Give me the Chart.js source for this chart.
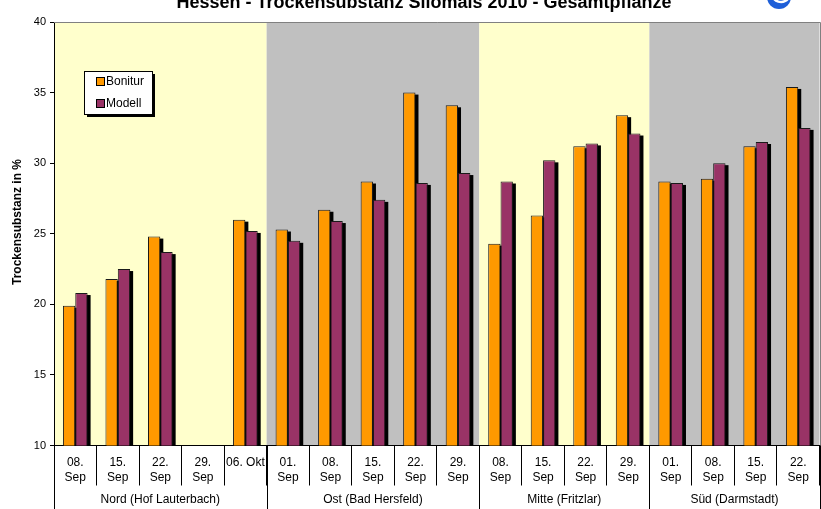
<!DOCTYPE html>
<html>
<head>
<meta charset="utf-8">
<script src="https://cdn.jsdelivr.net/npm/chart.js@4"></script>
<style>
  html, body { margin: 0; padding: 0; background: #fff; }
  #wrap { width: 821px; height: 509px; position: relative; }
</style>
</head>
<body>
<div id="wrap"><canvas id="c"></canvas></div>
<script>
// Sampling dates per site (two-line tick labels)
const categories = [
  ["08.", "Sep"], ["15.", "Sep"], ["22.", "Sep"], ["29.", "Sep"], "06. Okt",
  ["01.", "Sep"], ["08.", "Sep"], ["15.", "Sep"], ["22.", "Sep"], ["29.", "Sep"],
  ["08.", "Sep"], ["15.", "Sep"], ["22.", "Sep"], ["29.", "Sep"],
  ["01.", "Sep"], ["08.", "Sep"], ["15.", "Sep"], ["22.", "Sep"]
];
const regions = ["Nord (Hof Lauterbach)", "Ost (Bad Hersfeld)", "Mitte (Fritzlar)", "Süd (Darmstadt)"];
const regionSizes = [5, 5, 4, 4];

// Dry matter content in %
const bonitur = [19.9, 21.8, 24.8, null, 26.0, 25.3, 26.7, 28.7, 35.0, 34.1, 24.3, 26.3, 31.2, 33.4, 28.7, 28.9, 31.2, 35.4];
const modell  = [20.8, 22.5, 23.7, null, 25.2, 24.5, 25.9, 27.4, 28.6, 29.3, 28.7, 30.2, 31.4, 32.1, 28.6, 30.0, 31.5, 32.5];

const yMin = 10, yMax = 40, yStep = 5;

const FONT = "'Liberation Sans', Arial, Helvetica, sans-serif";
const bandColors = ["#FFFFCC", "#C0C0C0"];

function regionBounds(x) {
  const step = (x.right - x.left) / categories.length;
  const out = [];
  let start = 0;
  regionSizes.forEach(n => {
    out.push([x.left + start * step, x.left + (start + n) * step]);
    start += n;
  });
  return out;
}

const decor = {
  id: 'decor',
  beforeDraw(chart) {
    const { ctx, chartArea: a, scales: { x } } = chart;
    ctx.save();
    regionBounds(x).forEach(([l, r], i) => {
      ctx.fillStyle = bandColors[i % 2];
      ctx.fillRect(l, a.top, r - l, a.bottom - a.top);
    });
    ctx.restore();
  },
  beforeDatasetsDraw(chart) {
    // drop shadows behind the bars
    const { ctx, chartArea: a } = chart;
    ctx.save();
    ctx.beginPath();
    ctx.rect(a.left, a.top, a.right - a.left, a.bottom - a.top);
    ctx.clip();
    ctx.fillStyle = '#000';
    chart.data.datasets.forEach((ds, i) => {
      chart.getDatasetMeta(i).data.forEach((bar, j) => {
        if (ds.data[j] == null) return;
        const p = bar.getProps(['x', 'y', 'base', 'width'], true);
        ctx.fillRect(p.x - p.width / 2 + 3, p.y + 2, p.width, p.base - p.y);
      });
    });
    ctx.restore();
  },
  afterDraw(chart) {
    const { ctx, chartArea: a, scales: { x } } = chart;
    const H = chart.height;
    ctx.save();

    // plot frame top / right
    ctx.strokeStyle = '#808080';
    ctx.lineWidth = 1;
    ctx.beginPath();
    ctx.moveTo(Math.round(a.left), Math.round(a.top) + 0.5);
    ctx.lineTo(Math.round(a.right) + 0.5, Math.round(a.top) + 0.5);
    ctx.lineTo(Math.round(a.right) + 0.5, Math.round(a.bottom));
    ctx.stroke();

    // site separators and site names below the dates
    const bounds = regionBounds(x);
    ctx.strokeStyle = '#000';
    ctx.beginPath();
    const edges = [bounds[0][0]].concat(bounds.map(b => b[1]));
    edges.forEach(e => {
      const px = Math.round(e) + 0.5;
      ctx.moveTo(px, a.bottom);
      ctx.lineTo(px, H);
    });
    ctx.stroke();
    ctx.fillStyle = '#000';
    ctx.font = '12px ' + FONT;
    ctx.textAlign = 'center';
    ctx.textBaseline = 'middle';
    bounds.forEach(([l, r], i) => ctx.fillText(regions[i], (l + r) / 2, 500));

    // y axis title
    ctx.save();
    ctx.translate(18, 222);
    ctx.rotate(-Math.PI / 2);
    ctx.font = 'bold 12px ' + FONT;
    ctx.fillText('Trockensubstanz in %', 0, 0);
    ctx.restore();

    // chart title
    ctx.font = 'bold 18px ' + FONT;
    ctx.textBaseline = 'alphabetic';
    ctx.fillText('Hessen - Trockensubstanz Silomais 2010 - Gesamtpflanze', 424, 8);

    // logo
    ctx.fillStyle = '#1e5fd8';
    ctx.beginPath();
    ctx.arc(779, -3, 12, 0, Math.PI * 2);
    ctx.fill();
    ctx.strokeStyle = '#ffffff';
    ctx.lineWidth = 2.5;
    ctx.beginPath();
    ctx.arc(781, -7, 9, 0.3, Math.PI - 0.2);
    ctx.stroke();

    // legend
    const lx = 84, ly = 71, lw = 68, lh = 43;
    ctx.fillStyle = '#000';
    ctx.fillRect(lx + 3, ly + 3, lw, lh);
    ctx.fillStyle = '#fff';
    ctx.fillRect(lx, ly, lw, lh);
    ctx.strokeStyle = '#000';
    ctx.lineWidth = 1;
    ctx.strokeRect(lx + 0.5, ly + 0.5, lw, lh);
    ctx.font = '12px ' + FONT;
    ctx.textAlign = 'left';
    ctx.textBaseline = 'middle';
    chart.data.datasets.forEach((ds, i) => {
      const cy = 82 + i * 22;
      ctx.fillStyle = ds.backgroundColor;
      ctx.fillRect(97, cy - 4, 7, 7);
      ctx.strokeRect(96.5, cy - 4.5, 8, 8);
      ctx.fillStyle = '#000';
      ctx.fillText(ds.label, 106, cy);
    });

    ctx.restore();
  }
};

new Chart(document.getElementById('c'), {
  type: 'bar',
  data: {
    labels: categories,
    datasets: [
      { label: 'Bonitur', data: bonitur, backgroundColor: '#FF9900', borderColor: '#1a1a1a', borderWidth: 1 },
      { label: 'Modell', data: modell, backgroundColor: '#993366', borderColor: '#1a1a1a', borderWidth: 1 }
    ]
  },
  options: {
    responsive: true,
    maintainAspectRatio: false,
    animation: false,
    layout: { padding: { top: 22, right: 1.5, left: 0, bottom: 0 } },
    datasets: { bar: { categoryPercentage: 0.58, barPercentage: 1.0 } },
    plugins: { legend: { display: false }, title: { display: false }, tooltip: { enabled: false } },
    scales: {
      x: {
        offset: true,
        grid: { drawOnChartArea: false, drawTicks: true, tickLength: 40, color: '#000', offset: true },
        border: { color: '#000' },
        ticks: {
          autoSkip: false, maxRotation: 0, minRotation: 0, padding: -30,
          color: '#000', font: { family: FONT, size: 12, lineHeight: 1.25 }
        },
        afterFit(s) { s.height = 63.5; }
      },
      y: {
        min: yMin, max: yMax,
        grid: { drawOnChartArea: false, tickLength: 4, color: '#000' },
        border: { color: '#000' },
        ticks: { stepSize: yStep, padding: 4, color: '#000', font: { family: FONT, size: 11 } },
        afterFit(s) { s.width = 54; }
      }
    }
  },
  plugins: [decor]
});
</script>
</body>
</html>
